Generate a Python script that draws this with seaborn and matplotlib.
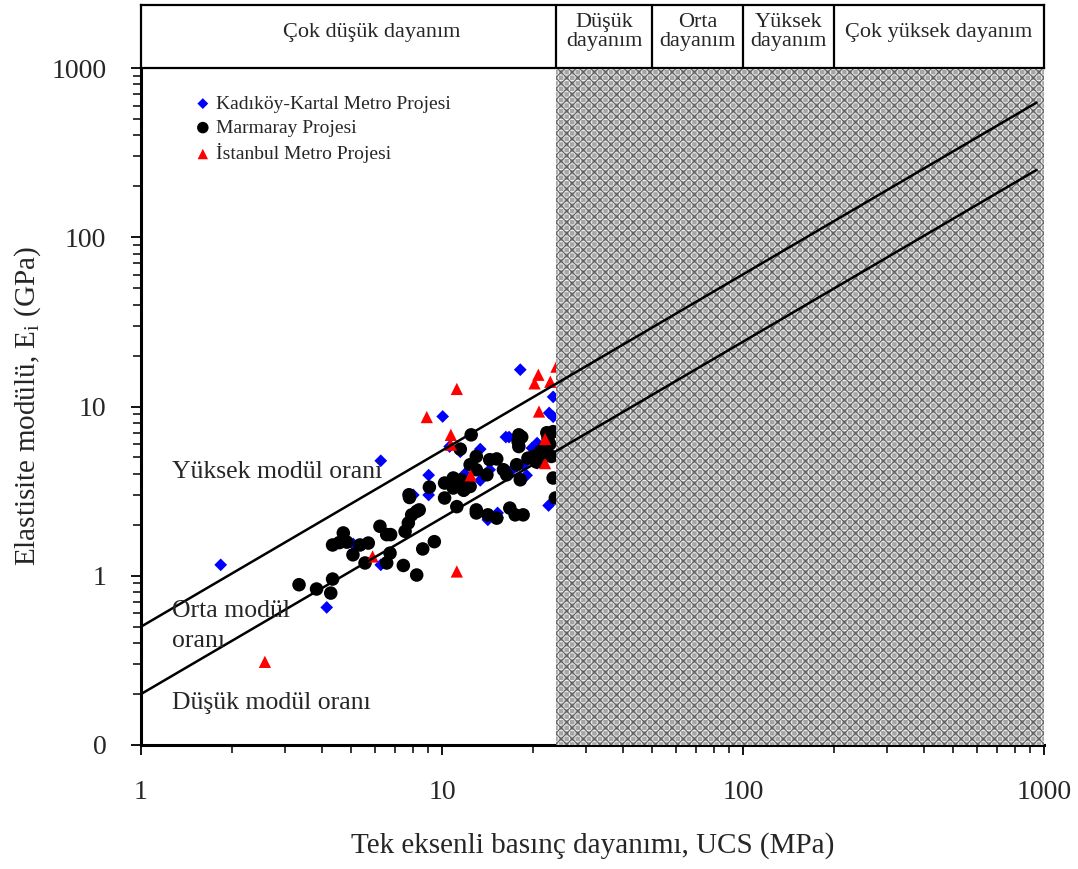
import numpy as np
import pandas as pd
import matplotlib
matplotlib.use("Agg")
import matplotlib.pyplot as plt
import seaborn as sns
from matplotlib.ticker import FixedLocator, LogLocator, NullFormatter

# ---------------- data ----------------
kadikoy_ucs = [1.84, 4.14, 6.26, 5.07, 6.26, 10.05, 9.03, 9.03, 10.6, 11.5, 13.4, 13.4,
               11.9, 11.9, 14.4, 15.3, 14.2, 16.7, 19.1, 17.2, 19.9, 20.7, 20.7, 22.7,
               23.4, 23.4, 22.6, 20.9, 18.2, 8.03, 17.7, 18.6, 16.3, 15.3]
kadikoy_e = [1.16, 0.65, 4.78, 1.54, 1.16, 8.73, 3.93, 3.0, 5.8, 5.4, 5.6, 3.66,
             3.99, 3.18, 4.23, 2.35, 2.14, 6.6, 3.92, 4.27, 5.68, 6.08, 4.63, 9.16,
             11.4, 8.7, 2.6, 5.3, 16.5, 3.0, 4.43, 4.53, 6.6, 2.2]

marmaray_ucs = [3.35, 3.83, 4.33, 4.27, 5.55, 6.55, 7.44, 8.24,
                4.33, 4.56, 4.7, 4.83, 5.06, 5.34, 5.69, 6.22, 6.55, 6.75, 6.72, 7.54,
                7.73, 7.77, 7.8, 7.93, 8.24, 8.4, 8.63, 9.43, 9.08, 10.2, 10.2, 10.9,
                10.9, 11.2, 11.5, 12.4, 12.5, 13.0, 13.0, 12.4, 11.6, 14.1, 14.4, 15.2,
                13.0, 13.0, 14.2, 15.2, 16.0, 16.4, 16.8, 17.5, 18.6, 17.7, 18.0, 18.0,
                18.2, 19.3, 20.1, 22.0, 22.3, 23.1, 23.4, 23.8, 23.4, 22.5, 21.2, 17.9,
                18.4, 20.6, 21.5, 22.8, 11.8, 12.0]
marmaray_e = [0.885, 0.835, 0.956, 0.79, 1.19, 1.19, 1.15, 1.01,
              1.52, 1.57, 1.79, 1.58, 1.33, 1.52, 1.56, 1.96, 1.75, 1.75, 1.36, 1.83,
              2.05, 3.01, 2.9, 2.29, 2.4, 2.45, 1.44, 1.59, 3.34, 3.53, 2.88, 3.78,
              3.3, 2.56, 5.6, 4.53, 6.8, 5.07, 4.23, 3.37, 3.69, 3.95, 4.85, 4.9,
              2.45, 2.35, 2.29, 2.19, 4.23, 3.95, 2.51, 2.29, 2.29, 4.53, 6.8, 5.8,
              3.69, 4.95, 5.07, 5.8, 7.0, 5.07, 3.78, 2.88, 7.1, 6.5, 5.4, 6.2,
              6.6, 4.7, 5.0, 6.0, 3.2, 3.3]

istanbul_ucs = [2.58, 11.2, 5.88, 8.9, 11.2, 10.7, 10.7, 12.45, 20.3, 22.9, 21.0, 22.0,
                22.0, 20.9, 24.0]
istanbul_e = [0.31, 1.06, 1.30, 8.66, 12.7, 6.8, 5.95, 3.92, 13.7, 14.0, 9.34, 6.42,
              4.63, 15.4, 17.2]

series_names = ["Kadıköy-Kartal Metro Projesi", "Marmaray Projesi", "İstanbul Metro Projesi"]

# modulus-ratio lines (endpoints)
line_ucs = [1, 945]
line_high = [0.5, 625]
line_low = [0.2, 250]

# strength classes (top band)
class_bounds = [1, 24, 50, 100, 200, 1000]
class_labels = ["Çok düşük dayanım", "Düşük\ndayanım", "Orta\ndayanım", "Yüksek\ndayanım",
                "Çok yüksek dayanım"]

x_ticks = [1, 10, 100, 1000]
x_ticklabels = ["1", "10", "100", "1000"]
y_ticks = [0.1, 1, 10, 100, 1000]
y_ticklabels = ["0", "1", "10", "100", "1000"]

# ---------------- style ----------------
sns.set_theme(style="white")
plt.rcParams['font.family'] = ['Liberation Serif', 'DejaVu Serif']
plt.rcParams['hatch.linewidth'] = 0.8

fig = plt.figure(figsize=(10.78, 8.69), dpi=100)
L, B, W, H = 141 / 1078, 1 - 745 / 869, (1044 - 141) / 1078, (745 - 68) / 869
ax = fig.add_axes([L, B, W, H])
ax_top = fig.add_axes([L, B + H, W, (68 - 5) / 869])

df_k = pd.DataFrame({"UCS": kadikoy_ucs, "E": kadikoy_e})
df_m = pd.DataFrame({"UCS": marmaray_ucs, "E": marmaray_e})
df_i = pd.DataFrame({"UCS": istanbul_ucs, "E": istanbul_e})

sns.scatterplot(data=df_k, x="UCS", y="E", ax=ax, color="#0000ff", marker="D", s=42,
                edgecolor="none", linewidth=0, label=series_names[0], zorder=3)
sns.scatterplot(data=df_m, x="UCS", y="E", ax=ax, color="black", marker="o", s=95,
                edgecolor="none", linewidth=0, label=series_names[1], zorder=3.1)
sns.scatterplot(data=df_i, x="UCS", y="E", ax=ax, color="#ff0000", marker="^", s=78,
                edgecolor="none", linewidth=0, label=series_names[2], zorder=3.2)

ax.set_xscale("log")
ax.set_yscale("log")
ax.set_xlim(1, 1000)
ax.set_ylim(0.1, 1000)

# shaded (hatched) region
ax.axvspan(class_bounds[1], class_bounds[-1], facecolor="#a6a6a6", edgecolor="#efefef",
           hatch="+++", lw=0, zorder=4)
ax.axvspan(class_bounds[1], class_bounds[-1], facecolor="none", edgecolor="#606060",
           hatch="xxx", lw=0, zorder=4.1)

# modulus ratio lines
ax.plot(line_ucs, line_high, color="black", lw=1.8, zorder=5)
ax.plot(line_ucs, line_low, color="black", lw=1.8, zorder=5)

# annotations
ann_fs = 18.5
ax.text(1.27, 4.1, "Yüksek modül orani", fontsize=ann_fs, va="center", ha="left", zorder=6)
ax.text(1.27, 0.62, "Orta modül", fontsize=ann_fs, va="center", ha="left", zorder=6)
ax.text(1.27, 0.41, "oranı", fontsize=ann_fs, va="center", ha="left", zorder=6)
ax.text(1.27, 0.178, "Düşük modül oranı", fontsize=ann_fs, va="center", ha="left", zorder=6)

# ticks
ax.xaxis.set_major_locator(FixedLocator(x_ticks))
ax.set_xticklabels(x_ticklabels)
ax.xaxis.set_minor_locator(LogLocator(base=10, subs=np.arange(2, 10)))
ax.xaxis.set_minor_formatter(NullFormatter())
ax.yaxis.set_major_locator(FixedLocator(y_ticks))
ax.set_yticklabels(y_ticklabels)
ax.yaxis.set_minor_locator(LogLocator(base=10, subs=np.arange(2, 10)))
ax.yaxis.set_minor_formatter(NullFormatter())
ax.tick_params(axis="both", which="major", direction="out", length=7, width=1.3,
               color="black", labelsize=20, bottom=True, left=True)
ax.tick_params(axis="both", which="minor", direction="out", length=6, width=1.1,
               color="black", bottom=True, left=True)
ax.tick_params(axis="x", which="major", pad=18)
ax.tick_params(axis="y", which="major", pad=18)

for s in ["top", "right"]:
    ax.spines[s].set_visible(False)
for s in ["left", "bottom"]:
    ax.spines[s].set_color("black")
    ax.spines[s].set_linewidth(2.2)
ax.grid(False)

ax.set_xlabel("Tek eksenli basınç dayanımı, UCS (MPa)", fontsize=21, labelpad=20)
ax.set_ylabel("Elastisite modülü, E$_\\mathregular{i}$ (GPa)", fontsize=21, labelpad=6)

leg = ax.legend(loc="upper left", bbox_to_anchor=(0.062, 0.96), frameon=False,
                fontsize=14, handlelength=0.6, handletextpad=0.4, labelspacing=0.33,
                borderpad=0, borderaxespad=0, markerscale=0.85)

# top band
ax_top.set_xscale("log")
ax_top.set_xlim(1, 1000)
ax_top.set_ylim(0, 1)
ax_top.set_xticks([])
ax_top.set_yticks([])
ax_top.minorticks_off()
for s in ax_top.spines.values():
    s.set_color("black")
    s.set_linewidth(1.6)
for b in class_bounds[1:-1]:
    ax_top.axvline(b, color="black", lw=1.6)
label_x = [5.85] + [np.sqrt(class_bounds[i] * class_bounds[i + 1]) for i in range(1, 5)]
for xx, lab in zip(label_x, class_labels):
    ax_top.text(xx, 0.57, lab, ha="center", va="center", fontsize=16, linespacing=1.0)

fig.savefig("out.png", dpi=100)
